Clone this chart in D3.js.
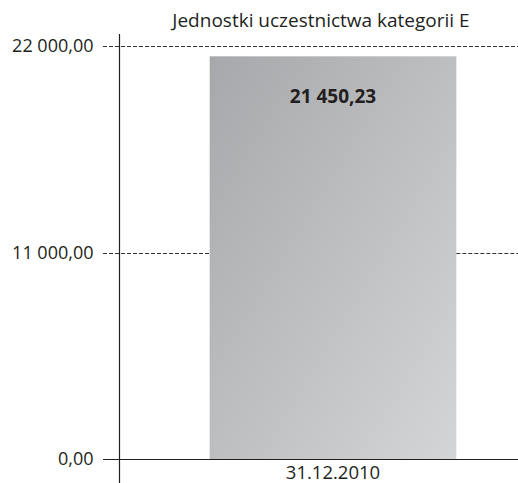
<!DOCTYPE html>
<html>
<head>
<meta charset="utf-8">
<script src="https://cdn.jsdelivr.net/npm/d3@7"></script>
<style>
  body { margin: 0; background: #fff; }
  text { font-family: "Open Sans", "Noto Sans", sans-serif; fill: #231f20; }
</style>
</head>
<body>
<div id="chart"></div>
<script>
var categories = ["31.12.2010"];
var values = [21450.23];
var tickValues = [0, 11000, 22000];
var title = "Jednostki uczestnictwa kategorii E";

var width = 518, height = 483;
var svg = d3.select("#chart").append("svg")
    .attr("width", width)
    .attr("height", height);

var fmt = function(v) {
  var parts = d3.format(".2f")(v).split(".");
  var intPart = parts[0].replace(/\B(?=(\d{3})+(?!\d))/g, " ");
  return intPart + "," + parts[1];
};

// gradient for bar
var defs = svg.append("defs");
var grad = defs.append("linearGradient")
    .attr("id", "barGrad")
    .attr("x1", "0%").attr("y1", "0%")
    .attr("x2", "100%").attr("y2", "100%");
grad.append("stop").attr("offset", "0%").attr("stop-color", "#a7a8ab");
grad.append("stop").attr("offset", "100%").attr("stop-color", "#d4d5d6");

var x = d3.scaleBand()
    .domain(categories)
    .range([148, 518])
    .padding(0.2);

var y = d3.scaleLinear()
    .domain([0, 22000])
    .range([459, 46]);

// bars
svg.selectAll("rect.bar")
    .data(values)
    .enter()
    .append("rect")
      .attr("class", "bar")
      .attr("x", function(d, i) { return x(categories[i]); })
      .attr("y", function(d) { return y(d); })
      .attr("width", x.bandwidth())
      .attr("height", function(d) { return y(0) - y(d); })
      .attr("fill", "url(#barGrad)");

// dashed gridlines, broken where the bar is
tickValues.filter(function(t) { return t > 0; }).forEach(function(t) {
  var yy = Math.round(y(t)) + 0.5;
  var bx0 = x(categories[0]), bx1 = bx0 + x.bandwidth();
  var segs = t > values[0] ? [[103, 518]] : [[103, bx0], [bx1, 518]];
  segs.forEach(function(s) {
    svg.append("line")
      .attr("x1", s[0]).attr("x2", s[1])
      .attr("y1", yy).attr("y2", yy)
      .attr("stroke", "#333")
      .attr("stroke-width", 1)
      .attr("stroke-dasharray", "4,2");
  });
});

// y axis
var yAxis = svg.append("g")
    .attr("transform", "translate(119.5,0)")
    .call(d3.axisLeft(y).tickValues(tickValues).tickFormat(fmt).tickSize(16).tickPadding(10));
yAxis.select(".domain").remove();
yAxis.selectAll(".tick line").attr("stroke", "#231f20");
yAxis.selectAll(".tick text")
    .style("font-size", "18px")
    .attr("dy", "0.32em");
yAxis.selectAll(".tick").filter(function(d) { return d > 0; }).select("line").remove();

svg.append("line")
    .attr("x1", 119.5).attr("x2", 119.5)
    .attr("y1", 34).attr("y2", 483)
    .attr("stroke", "#231f20").attr("stroke-width", 1.2);

// x axis
svg.append("line")
    .attr("x1", 103).attr("x2", 518)
    .attr("y1", 459.5).attr("y2", 459.5)
    .attr("stroke", "#231f20").attr("stroke-width", 1.2);

svg.selectAll("text.cat")
    .data(categories)
    .enter()
    .append("text")
      .attr("class", "cat")
      .attr("x", function(d) { return x(d) + x.bandwidth() / 2; })
      .attr("y", 479)
      .attr("text-anchor", "middle")
      .style("font-size", "18.5px")
      .text(function(d) { return d; });

// value labels
svg.selectAll("text.val")
    .data(values)
    .enter()
    .append("text")
      .attr("class", "val")
      .attr("x", function(d, i) { return x(categories[i]) + x.bandwidth() / 2; })
      .attr("y", function(d) { return y(d) + 47; })
      .attr("text-anchor", "middle")
      .style("font-size", "19px")
      .style("font-weight", "bold")
      .text(function(d) { return fmt(d); });

// title
svg.append("text")
    .attr("x", 321)
    .attr("y", 27)
    .attr("text-anchor", "middle")
    .style("font-size", "19px")
    .text(title);
</script>
</body>
</html>
